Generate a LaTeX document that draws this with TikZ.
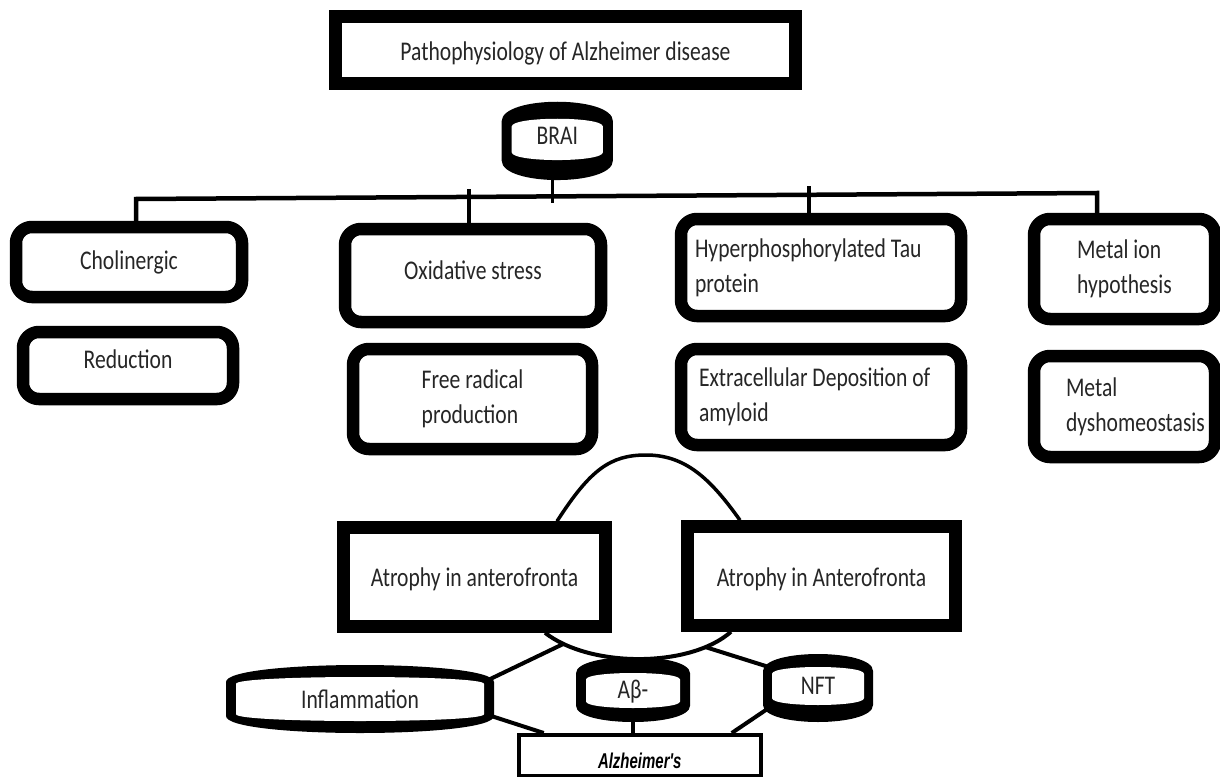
\documentclass[tikz,border=0pt]{standalone}
\usepackage{fontspec}
\setmainfont{Carlito}[FakeStretch=0.8]
\newfontfamily\alzfont{Liberation Sans}[FakeStretch=0.7]
\usetikzlibrary{calc,backgrounds}
\pgfdeclarelayer{bgfill}
\pgfdeclarelayer{conn}
\pgfsetlayers{bgfill,conn,main}
% pill-like shape: cx, cy, W, H, side thickness, top thickness, bottom thickness
\newcommand\pill[7]{%
 \pgfmathsetmacro\pilXa{#1-#3/2}%
 \pgfmathsetmacro\pilXb{#1+#3/2}%
 \pgfmathsetmacro\pilYa{#2-#4/2}%
 \pgfmathsetmacro\pilYb{#2+#4/2}%
 \pgfmathsetmacro\pilHo{0.25*#4}%
 \pgfmathsetmacro\pilHi{0.1*#4}%
 \pgfmathsetmacro\pilTa{\pilYa+\pilHo}%
 \pgfmathsetmacro\pilTc{\pilYa-\pilHo/3}%
 \pgfmathsetmacro\pilBa{\pilYb-\pilHo}%
 \pgfmathsetmacro\pilBc{\pilYb+\pilHo/3}%
 \pgfmathsetmacro\pilIxa{\pilXa+#5}%
 \pgfmathsetmacro\pilIxb{\pilXb-#5}%
 \pgfmathsetmacro\pilIya{\pilYa+#6}%
 \pgfmathsetmacro\pilIyb{\pilYb-#7}%
 \pgfmathsetmacro\pilITa{\pilIya+\pilHi}%
 \pgfmathsetmacro\pilITc{\pilIya-\pilHi/3}%
 \pgfmathsetmacro\pilIBa{\pilIyb-\pilHi}%
 \pgfmathsetmacro\pilIBc{\pilIyb+\pilHi/3}%
 \fill[black] (\pilXa,\pilTa) .. controls (\pilXa,\pilTc) and (\pilXb,\pilTc) .. (\pilXb,\pilTa)
   -- (\pilXb,\pilBa) .. controls (\pilXb,\pilBc) and (\pilXa,\pilBc) .. (\pilXa,\pilBa) -- cycle;
 \fill[white] (\pilIxa,\pilITa) .. controls (\pilIxa,\pilITc) and (\pilIxb,\pilITc) .. (\pilIxb,\pilITa)
   -- (\pilIxb,\pilIBa) .. controls (\pilIxb,\pilIBc) and (\pilIxa,\pilIBc) .. (\pilIxa,\pilIBa) -- cycle;
}
\begin{document}
\begin{tikzpicture}[x=1pt,y=-1pt,
  every node/.style={font=\fontsize{27pt}{35pt}\selectfont, text=black!85},
  rbox/.style={draw=black, line width=12.5pt, rounded corners=16pt, fill=white, inner sep=0pt},
  sbox/.style={draw=black, line width=12.5pt, fill=white, inner sep=0pt},
  ptext/.style={inner sep=0pt},
  tree/.style={line width=4.5pt},
  stub/.style={line width=3.5pt},
  link/.style={line width=4pt},
  arcl/.style={line width=3.5pt}
]
\begin{pgfonlayer}{bgfill}
\fill[white] (0,0) rectangle (1220,778);
\end{pgfonlayer}
\useasboundingbox (0,0) rectangle (1220,778);

% title and top-level boxes
\node[sbox, minimum width=460pt, minimum height=67pt, text height=21pt, text depth=0pt] (title) at (565.5,50) {Pathophysiology of Alzheimer disease};

\node[rbox, minimum width=226pt, minimum height=70pt, text height=19pt, text depth=5pt] (chol) at (129,262) {Cholinergic};
\node[rbox, minimum width=210pt, minimum height=67pt, text height=19pt, text depth=14pt] (red) at (128,365.5) {Reduction};
\node[rbox, minimum width=256pt, minimum height=93pt, text height=19pt, text depth=12pt] (ox) at (473,275.5) {Oxidative stress};
\node[rbox, minimum width=239pt, minimum height=100pt, align=flush left] (free) at (472.5,399) {Free radical\\production};
\node[rbox, minimum width=280pt, minimum height=97pt, text width=252pt, align=flush left] (hyp) at (821,267.5) {Hyperphosphorylated Tau\\protein};
\node[rbox, minimum width=280pt, minimum height=96pt, text width=244pt, align=flush left] (extra) at (821,397) {Extracellular Deposition of\\amyloid};
\node[rbox, minimum width=181pt, minimum height=100pt, align=flush left] (metion) at (1124.5,269) {Metal ion\\hypothesis};
\node[rbox, minimum width=181pt, minimum height=101pt, text width=117pt, align=flush left] (metdys) at (1124.5,406.5) {Metal\\\mbox{dyshomeostasis}};

\node[sbox, minimum width=262pt, minimum height=99pt, text height=19pt, text depth=1pt] (atl) at (474.5,577) {Atrophy in anterofronta};
\node[sbox, minimum width=268pt, minimum height=99pt, text height=20pt, text depth=0pt] (atr) at (821.5,576) {Atrophy in Anterofronta};

\node[draw=black, line width=3.5pt, fill=white, inner sep=0pt, minimum width=242pt, minimum height=40.5pt,
      text height=26pt, text depth=0pt, text=black,
      font=\alzfont\bfseries\itshape\fontsize{21.4pt}{25pt}\selectfont] (alz) at (639.75,755) {Alzheimer's};

% pill shaped nodes
\pill{557.3}{140.9}{111.3}{78.3}{10}{17}{20}
\node[ptext, minimum width=111.3pt, minimum height=78.3pt, text height=19pt, text depth=11pt] (brai) at (557.3,140.9) {BRAI};
\pill{360}{699}{268}{68}{10}{12}{12}
\node[ptext, minimum width=268pt, minimum height=68pt, text height=19pt, text depth=1pt] (infl) at (360,699) {Inflammation};
\pill{633}{689.5}{114}{65}{10}{16}{14}
\node[ptext, minimum width=114pt, minimum height=65pt, text height=19pt, text depth=2pt] (ab) at (633,689.5) {Aβ-};
\pill{818}{688}{110}{68}{9}{13}{17}
\node[ptext, minimum width=110pt, minimum height=68pt, text height=19pt, text depth=7pt] (nft) at (818,688) {NFT};

% connectors
\begin{pgfonlayer}{conn}
\coordinate (barL) at (136,199);
\coordinate (barR) at (1097,193);
\coordinate (arctop) at (646,455);
\draw[stub] ([xshift=-5pt]brai.south) -- ++(0,23);
\draw[tree] ([xshift=7pt]chol.north) -- (barL) -- (barR) -- ([xshift=-27.5pt]metion.north);
\draw[stub] ([xshift=-4pt]ox.north) -- ++(0,-34);
\draw[stub] ([xshift=-12pt]hyp.north) -- ++(0,-27);

\draw[arcl] ([xshift=82.5pt]atl.north) .. controls (590,470) and (610,455) .. (arctop)
            .. controls (685,455) and (710,478) .. ([xshift=-81.5pt]atr.north);
\draw[link] ([xshift=70.5pt]atl.south) .. controls (590,668) and (690,668) .. ([xshift=-90.5pt]atr.south)
            coordinate[pos=0.12] (uL) coordinate[pos=0.83] (uR);
\draw[link] ([xshift=-6pt,yshift=19pt]infl.east) -- (uL);
\draw[link] ([xshift=-6pt,yshift=-16pt]infl.east) -- ([xshift=-96pt]alz.north);
\draw[link] (ab.south) -- (ab.south |- alz.north);
\draw[link] (uR) -- ([xshift=6pt,yshift=21pt]nft.west);
\draw[link] ([xshift=6pt,yshift=-20pt]nft.west) -- ([xshift=92pt]alz.north);
\end{pgfonlayer}
\end{tikzpicture}
\end{document}
